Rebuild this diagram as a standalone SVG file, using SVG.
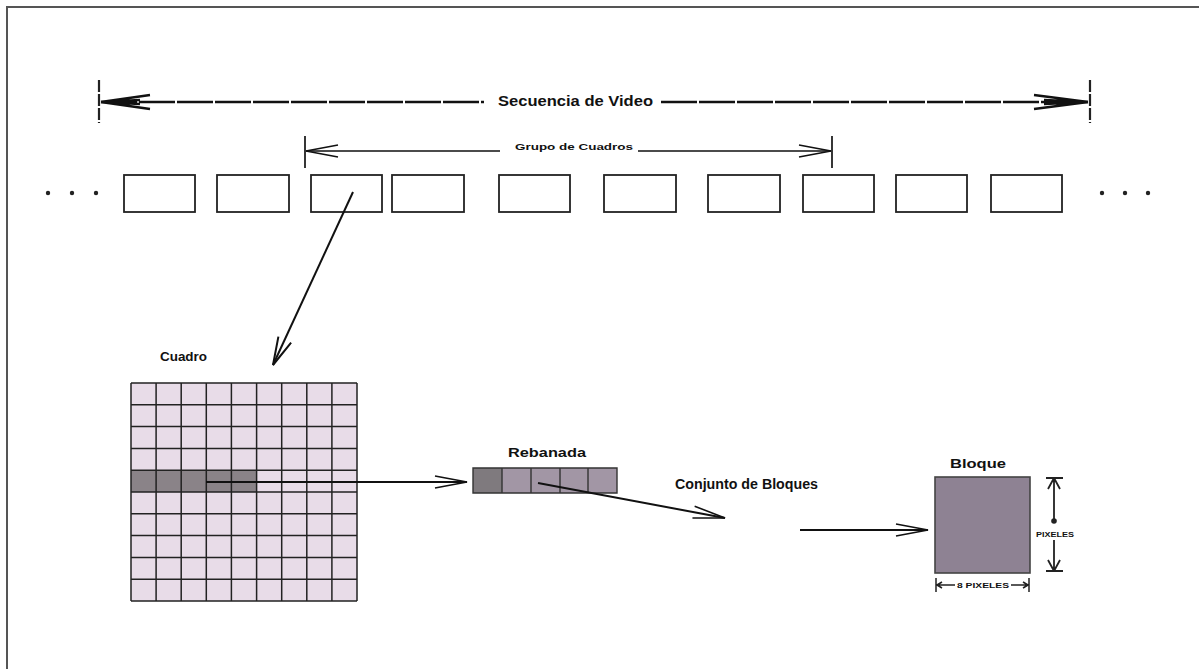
<svg xmlns="http://www.w3.org/2000/svg" width="1199" height="669" viewBox="0 0 1199 669">
<defs>
<style>
.t{font-family:"Liberation Sans",Arial,sans-serif;font-weight:bold;fill:#111}
.frame{fill:#fff;stroke:#222;stroke-width:1.8}
.ln{stroke:#111;stroke-width:2;fill:none}
.grid{stroke:#222;stroke-width:1.5;fill:none}
</style>
<marker id="open" viewBox="0 0 30 16" refX="29" refY="8" markerWidth="30" markerHeight="16" markerUnits="userSpaceOnUse" orient="auto">
<path d="M1,1 L29,8 L1,15" fill="none" stroke="#111" stroke-width="2"/>
</marker>
<marker id="openS" viewBox="0 0 34 14" refX="33" refY="7" markerWidth="34" markerHeight="14" markerUnits="userSpaceOnUse" orient="auto">
<path d="M1,1 L33,7 L1,13" fill="none" stroke="#111" stroke-width="1.6"/>
</marker>
</defs>
<rect width="1199" height="669" fill="#fff"/>
<path d="M7,669 L7,7 L1199,7" fill="none" stroke="#555" stroke-width="2"/>

<g id="secuencia">
<path d="M99,80 L99,123 M1090,80 L1090,123" stroke="#222" stroke-width="2.2" fill="none" stroke-dasharray="12,2"/>
<path d="M101,102 L484,102 M661,102 L1088,102" stroke="#111" stroke-width="2.6" fill="none" stroke-dasharray="36,2"/>
<path d="M101,102 L150,95 M101,102 L150,109 M101,102 L140,100 M101,102 L140,104" stroke="#111" stroke-width="2.4" fill="none"/>
<path d="M101,102 L128,98 L128,106 Z" fill="#111"/>
<path d="M1088,102 L1034,95 M1088,102 L1034,109 M1088,102 L1044,100 M1088,102 L1044,104" stroke="#111" stroke-width="2.4" fill="none"/>
<path d="M1088,102 L1060,98 L1060,106 Z" fill="#111"/>
<text class="t" x="498" y="106" font-size="14" textLength="155" lengthAdjust="spacingAndGlyphs">Secuencia de Video</text>
</g>

<g id="grupo">
<path d="M305,136 L305,168 M832,136 L832,168" stroke="#222" stroke-width="1.8" fill="none"/>
<path d="M306,151 L500,151 M638,151 L831,151" stroke="#111" stroke-width="1.6" fill="none"/>
<path d="M306,151 L338,145 M306,151 L338,157 M831,151 L799,145 M831,151 L799,157" stroke="#111" stroke-width="1.6" fill="none"/>
<text class="t" x="515" y="150" font-size="9.5" textLength="118" lengthAdjust="spacingAndGlyphs">Grupo de  Cuadros</text>
</g>

<g id="frames">
<circle cx="48" cy="193" r="2.2" fill="#222"/>
<circle cx="72" cy="193" r="2.2" fill="#222"/>
<circle cx="96" cy="193" r="2.2" fill="#222"/>
<rect class="frame" x="124" y="175" width="71" height="37"/>
<rect class="frame" x="217" y="175" width="72" height="37"/>
<rect class="frame" x="311" y="175" width="71" height="37" stroke="#444"/>
<rect class="frame" x="392" y="175" width="72" height="37"/>
<rect class="frame" x="499" y="175" width="71" height="37"/>
<rect class="frame" x="604" y="175" width="72" height="37"/>
<rect class="frame" x="708" y="175" width="72" height="37"/>
<rect class="frame" x="803" y="175" width="71" height="37"/>
<rect class="frame" x="896" y="175" width="71" height="37"/>
<rect class="frame" x="991" y="175" width="71" height="37"/>
<circle cx="1102" cy="193" r="2.2" fill="#222"/>
<circle cx="1125" cy="193" r="2.2" fill="#222"/>
<circle cx="1148" cy="193" r="2.2" fill="#222"/>
</g>

<g id="cuadro">
<text class="t" x="160" y="361" font-size="13" textLength="47" lengthAdjust="spacingAndGlyphs">Cuadro</text>
<rect x="131" y="383" width="226" height="218" fill="#e8dce8"/>
<rect x="131" y="470.2" width="125.5" height="21.8" fill="#8a8388"/>
<path class="grid" d="M131,383 V601 M156.1,383 V601 M181.2,383 V601 M206.3,383 V601 M231.4,383 V601 M256.6,383 V601 M281.7,383 V601 M306.8,383 V601 M331.9,383 V601 M357,383 V601
M131,383 H357 M131,404.8 H357 M131,426.6 H357 M131,448.4 H357 M131,470.2 H357 M131,492 H357 M131,513.8 H357 M131,535.6 H357 M131,557.4 H357 M131,579.2 H357 M131,601 H357"/>
</g>

<g id="rebanada">
<text class="t" x="508" y="457" font-size="12" textLength="78" lengthAdjust="spacingAndGlyphs">Rebanada</text>
<rect x="473" y="468" width="144" height="25" fill="#a296a5"/>
<rect x="473" y="468" width="29" height="25" fill="#7f7a7e"/>
<path d="M473,468 H617 V493 H473 Z M502,468 V493 M531,468 V493 M560,468 V493 M588,468 V493" fill="none" stroke="#333" stroke-width="1.4"/>
</g>

<g id="conjunto">
<text class="t" x="675" y="489" font-size="14" textLength="143" lengthAdjust="spacingAndGlyphs">Conjunto de Bloques</text>
</g>

<g id="bloque">
<text class="t" x="950" y="468" font-size="13" textLength="56" lengthAdjust="spacingAndGlyphs">Bloque</text>
<rect x="935" y="477" width="95" height="96" fill="#8e8293" stroke="#444" stroke-width="1.6"/>
<path d="M1046,478 H1063 M1046,571 H1063 M1054,478 V522 M1054,540 V571 M1054,478 L1048,489 M1054,478 L1060,489 M1054,571 L1048,560 M1054,571 L1060,560" stroke="#222" stroke-width="1.8" fill="none"/>
<circle cx="1054" cy="521" r="2.8" fill="#222"/>
<text class="t" x="1036" y="537" font-size="7.5" textLength="38" lengthAdjust="spacingAndGlyphs">PIXELES</text>
<path d="M936,578 V592 M1029,578 V592 M937,585 H955 M1011,585 H1028 M937,585 L942,582 M937,585 L942,588 M1028,585 L1023,582 M1028,585 L1023,588" stroke="#222" stroke-width="1.5" fill="none"/>
<text class="t" x="957" y="588" font-size="7.5" textLength="52" lengthAdjust="spacingAndGlyphs">8 PIXELES</text>
</g>

<g id="connectors">
<path class="ln" d="M353,192 L273,365" marker-end="url(#open)"/>
<path class="ln" d="M206,482 L467,482" marker-end="url(#openS)"/>
<path class="ln" d="M538,483 L725,518" marker-end="url(#openS)"/>
<path class="ln" d="M800,530 L928,530" marker-end="url(#openS)"/>
</g>
</svg>
